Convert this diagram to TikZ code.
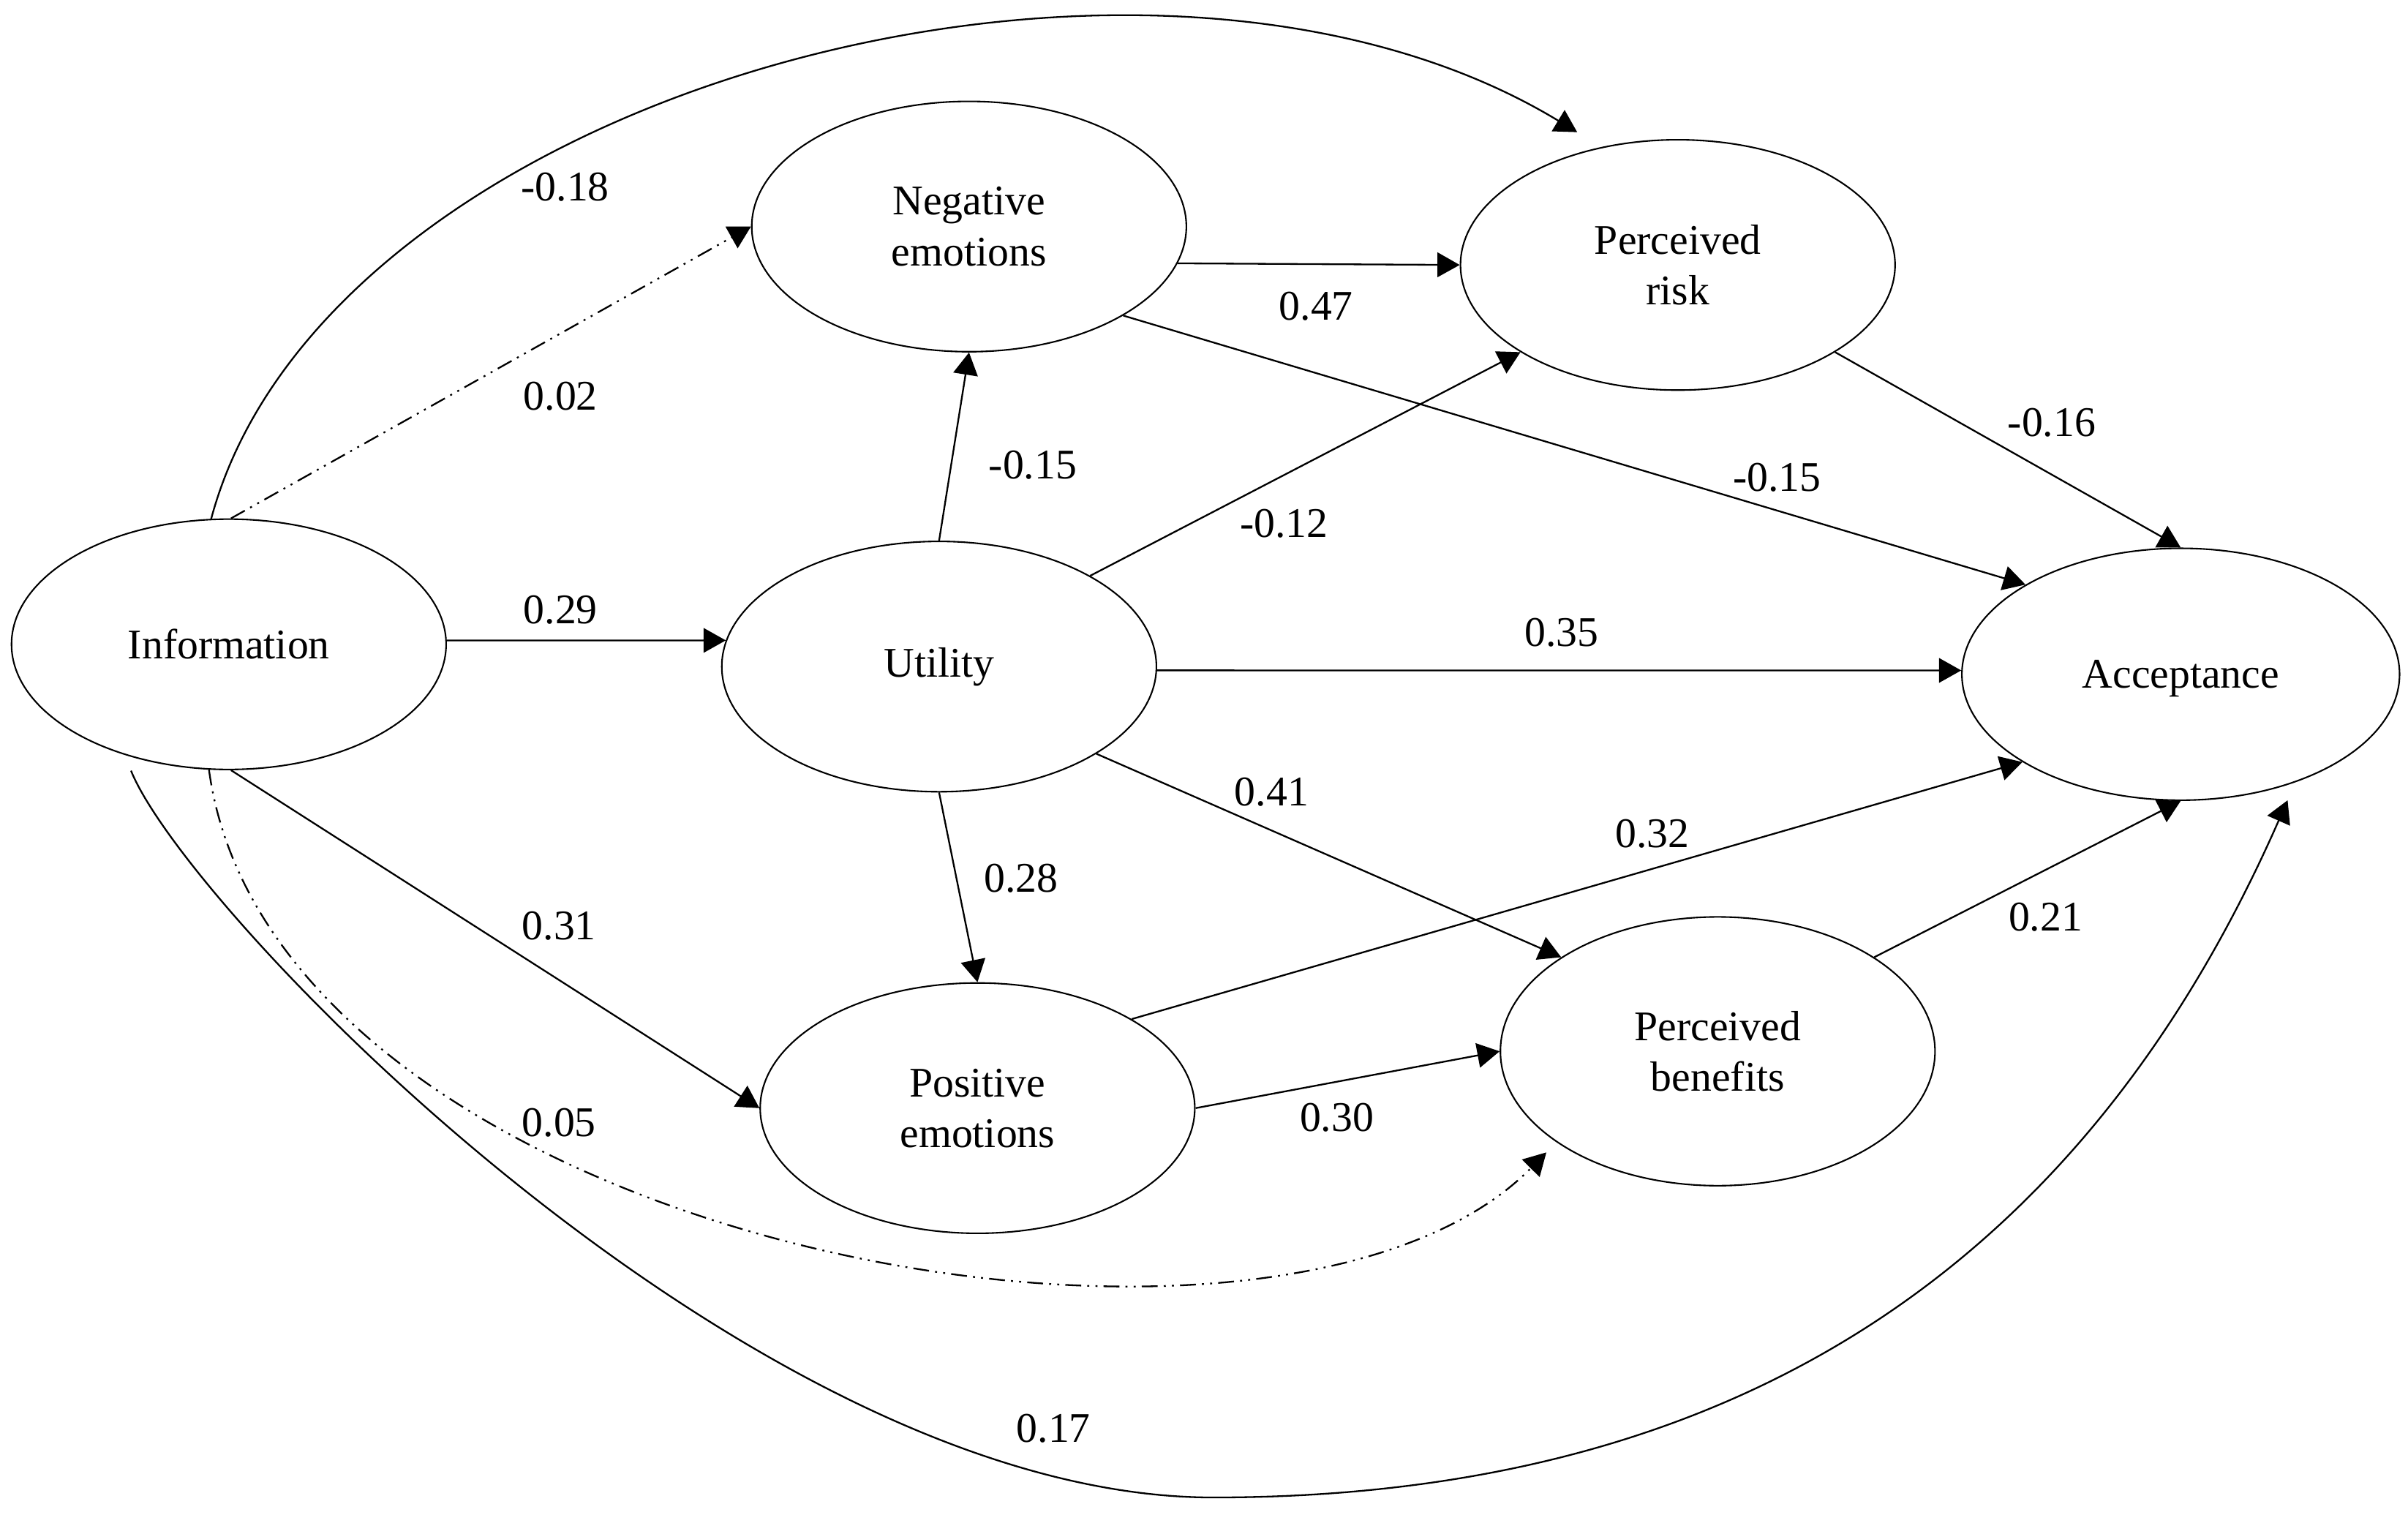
\documentclass[tikz,border=0pt]{standalone}
\usepackage{fontspec}
\setmainfont{Liberation Serif}
\usetikzlibrary{arrows.meta,shapes.geometric}
\begin{document}
\begin{tikzpicture}[x=1pt,y=-1pt,
  lat/.style={draw,ellipse,line width=1pt,minimum width=283pt,minimum height=163pt,inner sep=0pt,align=center,font=\fontsize{27.5}{33}\selectfont},
  lbl/.style={inner sep=0pt,font=\fontsize{27.5}{33}\selectfont},
  arr/.style={line width=1.1pt,-{Triangle[length=14.5pt,width=16pt]}},
  ddd/.style={dash pattern=on 10.3pt off 4pt on 1.3pt off 4pt on 1.3pt off 4pt}]
\useasboundingbox[fill=white] (0,0) rectangle (1568,986);

\node[lat] (I) at (149,419.5) {Information};
\node[lat] (N) at (631,147.5) {Negative\\emotions};
\node[lat] (R) at (1092.5,172.5) {Perceived\\risk};
\node[lat] (U) at (611.5,434) {Utility};
\node[lat,minimum width=285pt,minimum height=164pt,text depth=0pt] (A) at (1420,439) {Acceptance};
\node[lat] (P) at (636.5,721.5) {Positive\\emotions};
\node[lat,minimum height=175pt] (B) at (1118.5,684.5) {Perceived\\benefits};

% straight connectors
\draw[arr] (I.1) -- (U.173);
\draw[arr,ddd] (I.89) -- (N.180);
\draw[arr] (I.-89) -- (P.180);
\draw[arr] (U.north) -- (N.south);
\draw[arr] (U.31.1) -- (R.209.4);
\draw[arr] (U.-1.6) -- (A.179.6);
\draw[arr] (U.south) -- (P.north);
\draw[arr] (U.-29.6) -- (B.149);
\draw[arr] (N.-10.6) -- (R.180);
\draw[arr] (N.-30) -- (A.150);
\draw[arr] (R.-29.4) -- (A.north);
\draw[arr] (P.30.3) -- (A.209.3);
\draw[arr] (P.0.8) -- (B.180);
\draw[arr] (B.31.3) -- (A.south);

% curved connectors
\draw[arr] (I.98.5) .. controls (212,60) and (745,-85) .. ([yshift=13.7pt]R.132.7);
\draw[arr,ddd] (I.261.8) .. controls (178,810) and (830,930) .. ([yshift=-11.4pt]B.206.7);
\draw[arr] ([yshift=-9pt]I.-131) .. controls (122.5,594) and (490,975) .. (790,975)
  .. controls (1140,975) and (1360,815.6) .. ([yshift=-10pt]A.-46.6);

% labels
\node[lbl] (l01) at (365,397) {0.29};
\node[lbl] (l02) at (368,122) {-0.18};
\node[lbl] (l03) at (365,258) {0.02};
\node[lbl] (l04) at (364,603) {0.31};
\node[lbl] (l05) at (364,731) {0.05};
\node[lbl] (l06) at (686,930) {0.17};
\node[lbl] (l07) at (672.5,303) {-0.15};
\node[lbl] (l08) at (836,341) {-0.12};
\node[lbl] (l09) at (1017,412) {0.35};
\node[lbl] (l10) at (665,572) {0.28};
\node[lbl] (l11) at (828,515.5) {0.41};
\node[lbl] (l12) at (857,199.5) {0.47};
\node[lbl] (l13) at (1157,311) {-0.15};
\node[lbl] (l14) at (1336,275) {-0.16};
\node[lbl] (l15) at (1076,543) {0.32};
\node[lbl] (l16) at (870.5,727.5) {0.30};
\node[lbl] (l17) at (1332,597) {0.21};
\end{tikzpicture}
\end{document}
